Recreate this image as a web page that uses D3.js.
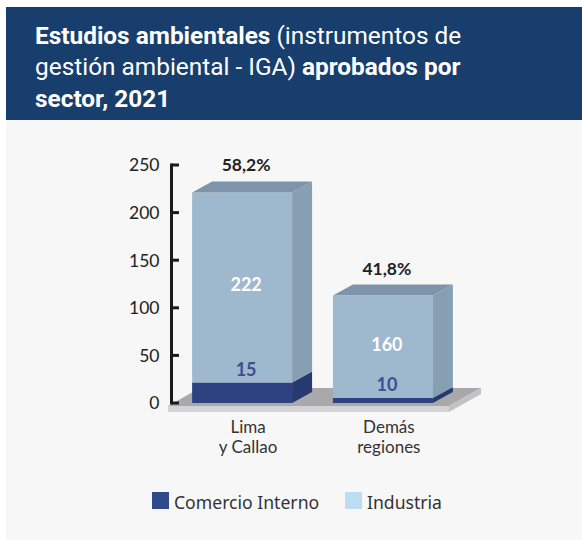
<!DOCTYPE html>
<html lang="es">
<head>
<meta charset="UTF-8">
<title>Estudios ambientales por sector, 2021</title>
<script src="https://d3js.org/d3.v7.min.js"></script>
<style>
    body { margin: 0; background: #ffffff; }
    svg { display: block; }
    .titulo { font-family: Roboto, sans-serif; font-size: 24.4px; fill: #ffffff; }
    .tick-label { font-family: Lato, sans-serif; font-size: 17.5px; fill: #222222; }
    .cat-label { font-family: Lato, sans-serif; font-size: 17px; fill: #333333; }
    .legend-text { font-family: "Noto Sans", sans-serif; font-size: 17.6px; fill: #333333; }
</style>
</head>
<body>
<svg id="chart" width="582" height="540"></svg>
<script>
    // datos del gráfico
    const categorias = [["Lima", "y Callao"], ["Demás", "regiones"]];
    const comercioInterno = [15, 10];      // valores rotulados
    const industria = [222, 160];          // valores rotulados
    const porcentajes = ["58,2%", "41,8%"];
    // altura con la que se dibuja cada tramo, leída contra el eje del original
    const alturaComercio = [21.6, 5.3];
    const alturaIndustria = [199.6, 107.5];
    const yTicks = [0, 50, 100, 150, 200, 250];
    const leyenda = ["Comercio Interno", "Industria"];

    const svg = d3.select("#chart");

    // fondo y cabecera
    svg.append("rect").attr("x", 6).attr("y", 120).attr("width", 576).attr("height", 420).attr("fill", "#f7f7f7");
    svg.append("rect").attr("x", 6).attr("y", 7).attr("width", 576).attr("height", 113).attr("fill", "#173e6c");

    const titulo = [
        [["Estudios ambientales", 700], [" (instrumentos de", 400]],
        [["gestión ambiental - IGA)", 400], [" aprobados por", 700]],
        [["sector, 2021", 700]]
    ];
    titulo.forEach((linea, i) => {
        const t = svg.append("text").attr("class", "titulo")
            .attr("x", 35).attr("y", 43.5 + i * 31.7);
        linea.forEach(([txt, w]) => t.append("tspan").attr("font-weight", w).text(txt));
    });

    // escalas
    const y = d3.scaleLinear().domain([0, 250]).range([403, 165]);
    const x = d3.scaleBand().domain(d3.range(categorias.length))
        .range([171, 454]).paddingInner(0.29).paddingOuter(0.15);
    const bw = x.bandwidth();
    const dx = 20, dy = -11;

    // piso 3D
    const fx0 = 168, fx1 = 449, fy = y(0) + 3;
    const piso = svg.append("g");
    piso.append("polygon")
        .attr("points", [[fx0, fy], [fx0 + 32, fy - 18], [fx1 + 32, fy - 18], [fx1, fy]].join(" "))
        .attr("fill", "#a9a9ab");
    piso.append("polygon")
        .attr("points", [[fx1, fy], [fx1 + 32, fy - 18], [fx1 + 32, fy - 12], [fx1, fy + 6]].join(" "))
        .attr("fill", "#c2c2c4");
    piso.append("rect").attr("x", fx0).attr("y", fy).attr("width", fx1 - fx0).attr("height", 6)
        .attr("fill", "#d3d3d5");

    // barras 3D apiladas
    const tramos = [
        { alto: alturaComercio, frente: "#2e4282", lado: "#27396f", tope: "#2a3c78" },
        { alto: alturaIndustria, frente: "#9eb8ce", lado: "#879fb3", tope: "#7e95a9" }
    ];
    const barras = svg.append("g");
    categorias.forEach((c, i) => {
        const x0 = x(i), x1 = x0 + bw;
        let base = 0;
        tramos.forEach((tr, k) => {
            const v0 = base, v1 = base + tr.alto[i];
            const yb = y(v0), yt = y(v1);
            barras.append("rect").attr("x", x0).attr("y", yt).attr("width", bw).attr("height", yb - yt)
                .attr("fill", tr.frente);
            barras.append("polygon")
                .attr("points", [[x1, yt], [x1 + dx, yt + dy], [x1 + dx, yb + dy], [x1, yb]].join(" "))
                .attr("fill", tr.lado);
            if (k === tramos.length - 1) {
                barras.append("polygon")
                    .attr("points", [[x0, yt], [x0 + dx, yt + dy], [x1 + dx, yt + dy], [x1, yt]].join(" "))
                    .attr("fill", tr.tope);
            }
            base = v1;
        });
    });

    // rótulos de valores
    const cx = i => x(i) + bw / 2 + 4;
    categorias.forEach((c, i) => {
        const yTopCom = y(alturaComercio[i]);
        const yTopInd = y(alturaComercio[i] + alturaIndustria[i]);
        svg.append("text").attr("x", cx(i)).attr("y", yTopCom - 6.5)
            .attr("text-anchor", "middle").attr("font-family", "Lato, sans-serif")
            .attr("font-size", 18).attr("font-weight", 700).attr("fill", "#3a4f94")
            .text(comercioInterno[i]);
        svg.append("text").attr("x", cx(i)).attr("y", (yTopCom + yTopInd) / 2 + 4)
            .attr("text-anchor", "middle").attr("font-family", "Lato, sans-serif")
            .attr("font-size", 18).attr("font-weight", 700).attr("fill", "#ffffff")
            .text(industria[i]);
        svg.append("text").attr("x", cx(i)).attr("y", yTopInd - 21)
            .attr("text-anchor", "middle").attr("font-family", "Lato, sans-serif")
            .attr("font-size", 17.5).attr("font-weight", 700).attr("fill", "#222222")
            .text(porcentajes[i]);
    });

    // eje Y
    const eje = svg.append("g");
    eje.append("line").attr("x1", 171.5).attr("x2", 171.5).attr("y1", y(250) - 1.5).attr("y2", y(0) + 1.5)
        .attr("stroke", "#1a1a1a").attr("stroke-width", 3);
    eje.selectAll(".tk").data(yTicks).enter().append("line")
        .attr("x1", 171.5).attr("x2", 179).attr("y1", d => y(d)).attr("y2", d => y(d))
        .attr("stroke", "#1a1a1a").attr("stroke-width", 3);
    eje.selectAll(".tick-label").data(yTicks).enter().append("text")
        .attr("class", "tick-label").attr("x", 159.5).attr("y", d => y(d) + 6.3)
        .attr("text-anchor", "end").text(d => d);

    // categorías
    categorias.forEach((lineas, i) => {
        lineas.forEach((l, j) => {
            svg.append("text").attr("class", "cat-label")
                .attr("x", x(i) + bw / 2 + 6).attr("y", 432.5 + j * 20.7)
                .attr("text-anchor", "middle").text(l);
        });
    });

    // leyenda
    const colLeyenda = ["#2f4a8c", "#bcdcf1"];
    const posLeyenda = [152, 345];
    leyenda.forEach((nombre, i) => {
        svg.append("rect").attr("x", posLeyenda[i]).attr("y", 492).attr("width", 17).attr("height", 17)
            .attr("fill", colLeyenda[i]);
        svg.append("text").attr("class", "legend-text").attr("x", posLeyenda[i] + 22).attr("y", 508.5)
            .text(nombre);
    });
</script>
</body>
</html>
